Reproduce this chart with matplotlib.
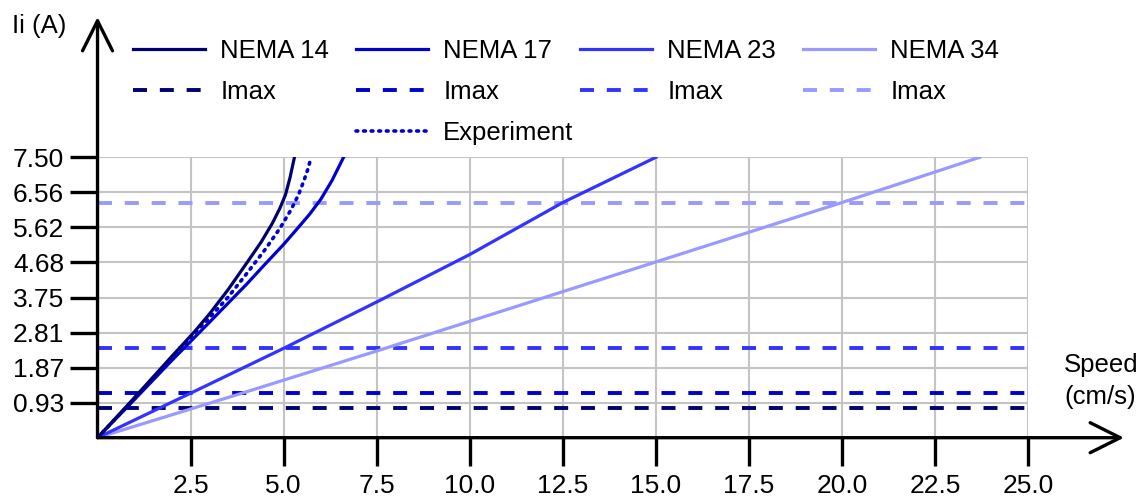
import matplotlib
matplotlib.use('Agg')
import matplotlib.pyplot as plt
from matplotlib.lines import Line2D

plt.rcParams['font.family'] = ['Liberation Sans', 'DejaVu Sans']

# Dados (velocidade em cm/s, corrente em A)
nomes = ['NEMA 14', 'NEMA 17', 'NEMA 23', 'NEMA 34']
cores = ['#00006e', '#0000d0', '#3333ff', '#9999ff']

vel_n14 = [0, 1.0, 2.0, 2.6, 3.0, 3.5, 4.0, 4.4, 4.7, 4.9, 5.05, 5.17, 5.29]
cor_n14 = [0, 1.08, 2.18, 2.83, 3.30, 3.95, 4.66, 5.24, 5.74, 6.14, 6.50, 6.95, 7.50]

vel_n17 = [0, 1.0, 2.0, 3.0, 4.0, 4.5, 5.0, 5.4, 5.7, 6.0, 6.3, 6.61]
cor_n17 = [0, 1.03, 2.07, 3.08, 4.10, 4.64, 5.17, 5.63, 5.98, 6.38, 6.88, 7.50]

vel_n23 = [0, 2.5, 5.0, 7.6, 10.0, 12.5, 15.0]
cor_n23 = [0, 1.19, 2.39, 3.68, 4.90, 6.29, 7.50]

vel_n34 = [0, 3.88, 7.6, 20.0, 23.7]
cor_n34 = [0, 1.19, 2.35, 6.29, 7.50]

vel_exp = [0, 1.0, 2.0, 2.6, 3.0, 3.5, 4.0, 4.5, 4.9, 5.2, 5.4, 5.55, 5.65, 5.74]
cor_exp = [0, 1.05, 2.13, 2.79, 3.20, 3.75, 4.38, 5.03, 5.60, 6.10, 6.50, 6.89, 7.18, 7.50]

imax = [0.80, 1.19, 2.39, 6.29]

x_ticks = [2.5, 5.0, 7.5, 10.0, 12.5, 15.0, 17.5, 20.0, 22.5, 25.0]
x_labels = ['2.5', '5.0', '7.5', '10.0', '12.5', '15.0', '17.5', '20.0', '22.5', '25.0']
y_ticks = [0.9375, 1.875, 2.8125, 3.75, 4.6875, 5.625, 6.5625, 7.5]
y_labels = ['0.93', '1.87', '2.81', '3.75', '4.68', '5.62', '6.56', '7.50']

fig = plt.figure(figsize=(11.46, 5.0), dpi=100)
ax = fig.add_axes([0.0851, 0.1246, 0.8120, 0.5608])
ax.set_xlim(0, 25)
ax.set_ylim(0, 7.5)

# grade cinza
ax.set_xticks(x_ticks)
ax.set_xticklabels(x_labels)
ax.set_yticks(y_ticks)
ax.set_yticklabels(y_labels)
ax.grid(True, color='#c4c4c4', lw=1.5, zorder=0)
ax.set_axisbelow(True)
ax.tick_params(length=20, width=2.4, direction='out', labelsize=19, color='black')
ax.tick_params(axis='x', pad=6)
ax.tick_params(axis='y', pad=4)
for s in ax.spines.values():
    s.set_visible(False)

# Imax (tracejado)
for val, c in zip(imax, cores):
    ax.axhline(val, color=c, lw=2.8, dashes=(3.6, 3.3), zorder=2)

# curvas
tracejado_exp = (0, (0.5, 1.6))
ax.plot(vel_n34, cor_n34, color=cores[3], lw=2.3, zorder=3)
ax.plot(vel_n23, cor_n23, color=cores[2], lw=2.3, zorder=3)
ax.plot(vel_n17, cor_n17, color=cores[1], lw=2.3, zorder=3)
ax.plot(vel_exp, cor_exp, color=cores[1], lw=2.6, linestyle=tracejado_exp,
        dash_capstyle='round', zorder=3)
ax.plot(vel_n14, cor_n14, color=cores[0], lw=2.3, zorder=4)

# eixos com setas
seta = dict(arrowstyle='->,head_length=2.16,head_width=1.08', lw=2.4, color='black',
            shrinkA=0, shrinkB=0, mutation_scale=10)
ax.annotate('', xy=(1.103, 0), xytext=(0, 0), xycoords='axes fraction',
            arrowprops=seta, annotation_clip=False)
ax.annotate('', xy=(0, 1.50), xytext=(0, 0), xycoords='axes fraction',
            arrowprops=seta, annotation_clip=False)

ax.text(26.95, 1.52, 'Speed\n(cm/s)', ha='center', va='center', fontsize=18.5,
        linespacing=1.4, clip_on=False)
fig.text(39 / 1146, 1 - 26 / 500, 'Ii (A)', ha='center', va='center', fontsize=18.5)

# legenda em 4 colunas
colunas_x = [133, 356, 580, 803]
for i in range(4):
    handles = [Line2D([], [], color=cores[i], lw=2.3),
               Line2D([], [], color=cores[i], lw=2.8, dashes=(3.6, 3.3))]
    labels = [nomes[i], 'Imax']
    if i == 1:
        handles.append(Line2D([], [], color=cores[1], lw=2.6, linestyle=tracejado_exp,
                              dash_capstyle='round'))
        labels.append('Experiment')
    leg = fig.legend(handles, labels, loc='upper left',
                     bbox_to_anchor=(colunas_x[i] / 1146, 1 - 39 / 500),
                     frameon=False, fontsize=18.5, handlelength=2.8, handletextpad=0.6,
                     labelspacing=0.66, borderpad=0, borderaxespad=0)

fig.savefig('out.png', dpi=100)
